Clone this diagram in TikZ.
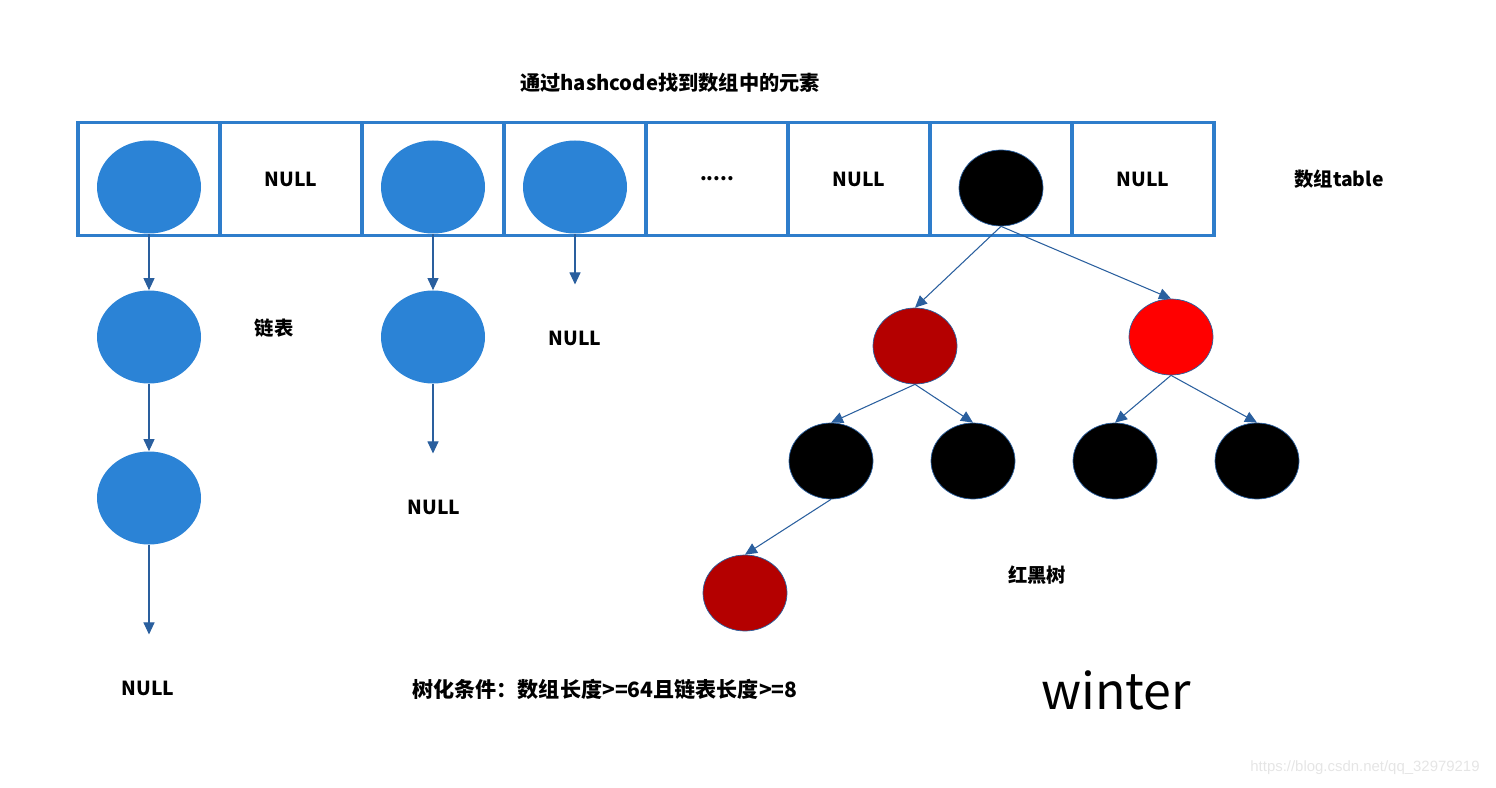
\documentclass[tikz,border=0pt]{standalone}
\usepackage{fontspec}
\setmainfont{Noto Sans CJK SC}
\newfontfamily\markfont{Liberation Sans}
\usepackage{tikz}
\usetikzlibrary{arrows.meta, positioning, shapes.geometric}
\definecolor{cellc}{HTML}{2E7DCB}
\definecolor{nodec}{HTML}{2B83D6}
\definecolor{linkc}{HTML}{2A5F9E}
\definecolor{rbdark}{HTML}{B40000}
\definecolor{rblight}{HTML}{FF0000}

\begin{document}
\begin{tikzpicture}[x=0.2mm, y=-0.2mm,
    >={Triangle[length=2.4mm, width=2.2mm]},
    cell/.style={draw=cellc, line width=2.2pt, minimum width=28.4mm,
      minimum height=22.6mm, inner sep=0pt},
    listnode/.style={ellipse, fill=nodec, minimum width=20.8mm,
      minimum height=18.6mm, inner sep=0pt},
    rbnode/.style={ellipse, draw=linkc, line width=0.4pt, minimum width=16.8mm,
      minimum height=15.2mm, inner sep=0pt},
    link/.style={->, linkc, line width=0.6pt},
    lbl/.style={font=\fontsize{11}{13}\selectfont\bfseries}]
    \useasboundingbox (0,0) rectangle (1496,788);
    % title
    \node[lbl, font=\fontsize{11.5}{13}\selectfont\bfseries]
      (title) at (670,83) {通过hashcode找到数组中的元素};
    % array table
    \foreach \i in {1,...,8}{
      \node[cell] (cell\i) at (7+142*\i,179) {};
    }
    \node[lbl] (null2) at (cell2) {NULL};
    \node[lbl] (dots5) at (cell5) {.....};
    \node[lbl] (null6) at (cell6) {NULL};
    \node[lbl] (null8) at (cell8) {NULL};
    \node[lbl] (table) at (1339,179) {数组table};
    % bucket heads
    \foreach \i in {1,3,4}{
      \node[listnode] (head\i) at (7+142*\i,187) {};
    }
    % linked lists
    \node[listnode] (a2) at (149,337) {};
    \node[listnode] (a3) at (149,498) {};
    \node[lbl] (nullA) at (148,688) {NULL};
    \node[listnode] (b2) at (433,337) {};
    \node[lbl] (nullB) at (434,507) {NULL};
    \node[lbl] (nullC) at (575,338) {NULL};
    \node[lbl] (list) at (274,328) {链表};
    \draw[link] (head1) -- (a2);
    \draw[link] (a2) -- (a3);
    \draw[link, shorten >=8mm] (a3.south) -- (a3.south |- nullA.north);
    \draw[link] (head3) -- (b2);
    \draw[link, shorten >=8mm] (b2.south) -- (b2.south |- nullB.north);
    \draw[link, shorten >=8mm] (head4.south) -- (head4.south |- nullC.north);
    % red-black tree
    \node[rbnode, fill=black] (root) at (1001,188) {};
    \node[rbnode, fill=rbdark] (r1) at (915,346) {};
    \node[rbnode, fill=rblight] (r2) at (1171,337) {};
    \foreach \j/\x in {1/831,2/973,3/1115,4/1257}{
      \node[rbnode, fill=black] (k\j) at (\x,461) {};
    }
    \node[rbnode, fill=rbdark] (r3) at (745,593) {};
    \draw[link] (root.south) -- (r1.north);
    \draw[link] (root.south) -- (r2.north);
    \draw[link] (r1.south) -- (k1.north);
    \draw[link] (r1.south) -- (k2.north);
    \draw[link] (r2.south) -- (k3.north);
    \draw[link] (r2.south) -- (k4.north);
    \draw[link] (k1.south) -- (r3.north);
    \node[lbl] (rbtree) at (1037,575) {红黑树};
    % notes
    \node[lbl, font=\fontsize{12}{14}\selectfont\bfseries]
      (cond) at (605,689) {树化条件：数组长度>=64且链表长度>=8};
    \node[font=\fontsize{28.5}{32}\selectfont] (sign) at (1116,690) {winter};
    \node[font=\markfont\fontsize{8.5}{10}\selectfont, text=black!10]
      (mark) at (1365,768) {https://blog.csdn.net/qq\_32979219};
  \end{tikzpicture}
\end{document}
